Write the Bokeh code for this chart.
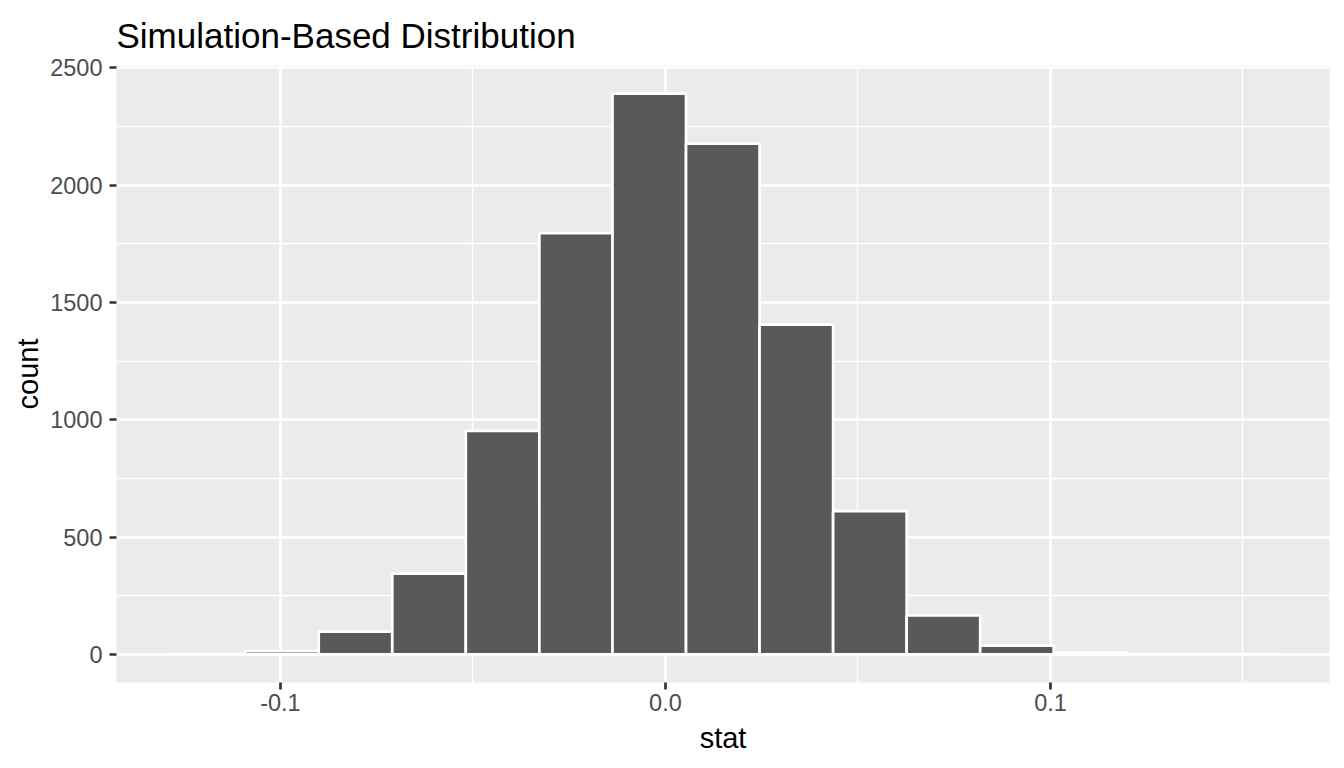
import numpy as np
from bokeh.plotting import figure
from bokeh.models import Range1d, FixedTicker, PrintfTickFormatter
from bokeh.embed import file_html
from bokeh.resources import INLINE

# bin centres of the simulated statistic and their counts
bin_centers = [-0.1187, -0.0996, -0.0805, -0.0614, -0.0423, -0.0232, -0.0042,
               0.0149, 0.0340, 0.0531, 0.0722, 0.0913, 0.1104, 0.1295, 0.1486]
counts = [2, 14, 97, 344, 953, 1795, 2390, 2176, 1405, 611, 166, 38, 8, 0, 1]

x_ticks = [-0.1, 0.0, 0.1]
x_minor = [-0.15, -0.05, 0.05, 0.15]
y_ticks = [0, 500, 1000, 1500, 2000, 2500]
y_minor = [250, 750, 1250, 1750, 2250]

BIN_WIDTH = 0.0191
FONT = "Liberation Sans"

centers = np.array(bin_centers)
left = centers - BIN_WIDTH / 2
right = centers + BIN_WIDTH / 2

# ggplot style 5% expansion on both axes
span = right.max() - left.min()
x_range = Range1d(left.min() - 0.05 * span, right.max() + 0.05 * span)
y_range = Range1d(-0.05 * max(counts), 1.05 * max(counts))

p = figure(frame_width=1213, frame_height=617,
           min_border_left=116, min_border_right=7,
           min_border_top=65, min_border_bottom=78,
           x_range=x_range, y_range=y_range,
           output_backend="svg", toolbar_location=None, tools="",
           background_fill_color="#EBEBEB", border_fill_color="white")
p.outline_line_color = None

p.title.text = "Simulation-Based Distribution"
p.title.text_font = FONT
p.title.text_font_size = "35px"
p.title.text_font_style = "normal"
p.title.text_color = "black"
p.title.align = "left"
p.title.text_line_height = 0.8
p.title.standoff = 22

p.quad(left=left, right=right, top=counts, bottom=0,
       fill_color="#595959", line_color="white", line_width=2.7)

p.xaxis.ticker = FixedTicker(ticks=x_ticks, minor_ticks=x_minor)
p.yaxis.ticker = FixedTicker(ticks=y_ticks, minor_ticks=y_minor)
p.xaxis.formatter = PrintfTickFormatter(format="%.1f")

for ax in (p.xaxis, p.yaxis):
    ax.axis_line_color = None
    ax.major_tick_in = 0
    ax.major_tick_out = 7
    ax.major_tick_line_color = "#333333"
    ax.major_tick_line_width = 2.7
    ax.minor_tick_line_color = None
    ax.major_label_text_font = FONT
    ax.major_label_text_font_size = "23.5px"
    ax.major_label_text_color = "#4D4D4D"
    ax.axis_label_text_font = FONT
    ax.axis_label_text_font_size = "29px"
    ax.axis_label_text_font_style = "normal"
    ax.axis_label_text_color = "black"

p.xaxis.axis_label = "stat"
p.yaxis.axis_label = "count"
p.xaxis.major_label_standoff = 4
p.yaxis.major_label_standoff = 7
p.xaxis.axis_label_standoff = 8
p.yaxis.axis_label_standoff = 3

p.grid.grid_line_color = "white"
p.grid.grid_line_width = 2.7
p.grid.minor_grid_line_color = "white"
p.grid.minor_grid_line_width = 1.4

open("out.html", "w").write(file_html(p, INLINE))
